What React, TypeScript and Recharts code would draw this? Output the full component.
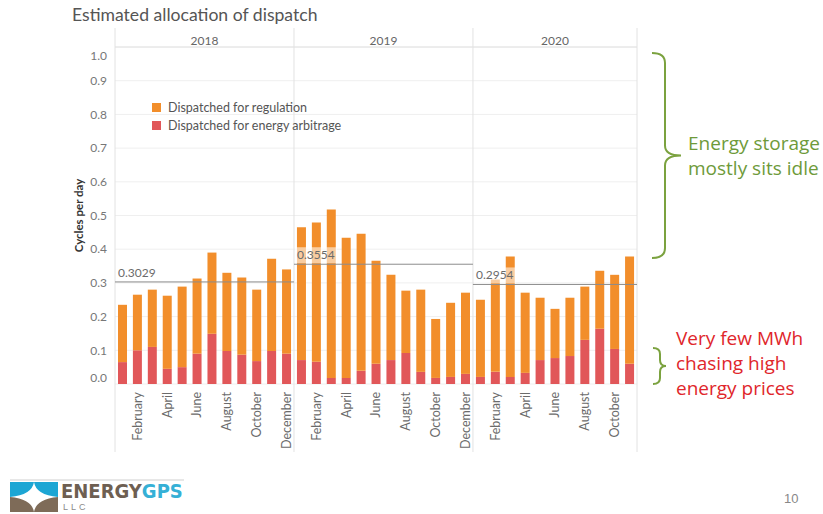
import React from "react";
import { Bar, BarChart, CartesianGrid, Legend, ReferenceLine, XAxis, YAxis } from "recharts";

const years = ["2018", "2019", "2020"];
const monthNames = [
  "January", "February", "March", "April", "May", "June",
  "July", "August", "September", "October", "November", "December",
];

// cycles per day (arbitrage = red bottom, regulation = orange top)
const arbitrage2018 = [0.065, 0.1, 0.11, 0.045, 0.05, 0.09, 0.149, 0.098, 0.087, 0.068, 0.098, 0.09];
const regulation2018 = [0.17, 0.165, 0.17, 0.217, 0.239, 0.223, 0.241, 0.232, 0.229, 0.212, 0.274, 0.25];
const arbitrage2019 = [0.071, 0.066, 0.018, 0.018, 0.039, 0.06, 0.071, 0.092, 0.036, 0.018, 0.021, 0.03];
const regulation2019 = [0.394, 0.413, 0.5, 0.416, 0.407, 0.306, 0.253, 0.185, 0.244, 0.175, 0.22, 0.241];
const arbitrage2020 = [0.021, 0.036, 0.021, 0.033, 0.071, 0.077, 0.083, 0.131, 0.164, 0.104, 0.06];
const regulation2020 = [0.229, 0.274, 0.357, 0.238, 0.185, 0.146, 0.173, 0.158, 0.172, 0.22, 0.318];

const yearAverages = [0.3029, 0.3554, 0.2954];
const yTicks = [0, 0.1, 0.2, 0.3, 0.4, 0.5, 0.6, 0.7, 0.8, 0.9, 1.0];

const ORANGE = "#F28E2B";
const RED = "#E15759";
const FONT = "Lato, 'Open Sans', sans-serif";

const arbitrageByYear = [arbitrage2018, arbitrage2019, arbitrage2020];
const regulationByYear = [regulation2018, regulation2019, regulation2020];

const chartData = years.flatMap((year, yi) =>
  regulationByYear[yi].map((reg, m) => ({
    key: `${monthNames[m]} ${year}`,
    month: m,
    regulation: reg,
    arbitrage: arbitrageByYear[yi][m],
  }))
).map((row, i) => ({ ...row, slot: i + 0.5 }));
const rowByKey = new Map(chartData.map((r) => [r.key, r]));

// pane boundaries on a 0..N slot scale (one unit per bar)
const yearStarts: number[] = [];
let acc = 0;
regulationByYear.forEach((arr) => {
  yearStarts.push(acc);
  acc += arr.length;
});
const totalBars = acc;
const yearEnds = yearStarts.map((s, i) => s + regulationByYear[i].length);
const yearCenters = yearStarts.map((s, i) => (s + yearEnds[i]) / 2);
const paneEdges = [...yearStarts, totalBars];

const legendItems = [
  { label: "Dispatched for regulation", color: ORANGE },
  { label: "Dispatched for energy arbitrage", color: RED },
];

const MonthTick = (props: any) => {
  const { x, y, payload } = props;
  const row = rowByKey.get(payload.value);
  if (!row || row.month % 2 === 0) return <g />;
  return (
    <text
      x={x}
      y={y}
      transform={`rotate(-90, ${x}, ${y})`}
      textAnchor="end"
      dy="0.35em"
      fill="#6b6b6b"
      fontSize={12.5}
      fontFamily={FONT}
    >
      {monthNames[row.month]}
    </text>
  );
};

const YearTick = (props: any) => {
  const { x, y, payload } = props;
  const label = years[yearCenters.indexOf(payload.value)] ?? "";
  return (
    <text x={x} y={y} dy={6} textAnchor="middle" fill="#666" fontSize={12} fontFamily={FONT}>
      {label}
    </text>
  );
};

// Tableau pulls the end labels inside the pane
const ValueTick = (props: any) => {
  const { x, y, payload } = props;
  const v = payload.value as number;
  const nudge = v === 0 ? -6 : v === 1 ? 9 : 0;
  return (
    <text x={x} y={y + nudge} dy="0.35em" textAnchor="end" fill="#777" fontSize={12} fontFamily={FONT}>
      {v.toFixed(1)}
    </text>
  );
};

const PaneDivider = (p: any) => {
  const top = Math.min(p.y1, p.y2);
  const bottom = Math.max(p.y1, p.y2);
  return <line x1={p.x1} x2={p.x2} y1={top - 19} y2={bottom + 68} stroke="#e2e2e2" strokeWidth={1} />;
};

const avgLabel = (text: string) => (props: any) => {
  const vb = props.viewBox || {};
  return (
    <g>
      <rect x={vb.x + 1} y={vb.y - 17} width={42} height={16} fill="#ffffff" opacity={0.55} />
      <text x={vb.x + 3} y={vb.y - 5} fill="#6b6b6b" fontSize={12} fontFamily={FONT}>
        {text}
      </text>
    </g>
  );
};

const brace = (x0: number, xv: number, xt: number, y0: number, y1: number, r: number) => {
  const ym = (y0 + y1) / 2;
  return `M${x0},${y0} Q${xv},${y0} ${xv},${y0 + r} L${xv},${ym - r} Q${xv},${ym} ${xt},${ym} Q${xv},${ym} ${xv},${ym + r} L${xv},${y1 - r} Q${xv},${y1} ${x0},${y1}`;
};

export default function App() {
  return (
    <div style={{ position: "absolute", left: 0, top: 0, width: 823, height: 514, background: "#fff", fontFamily: FONT, overflow: "hidden" }}>
      <div style={{ position: "absolute", left: 72, top: 4, fontSize: 17.6, color: "#555", whiteSpace: "nowrap" }}>
        Estimated allocation of dispatch
      </div>

      <div style={{ position: "absolute", left: 0, top: 0 }}>
        <BarChart
          width={823}
          height={460}
          data={chartData}
          margin={{ top: 27, right: 186, bottom: 10, left: 70 }}
          barCategoryGap="20%"
        >
          <CartesianGrid xAxisId="cat" vertical={false} stroke="#efefef" />
          <XAxis
            xAxisId="cat"
            dataKey="key"
            interval={0}
            height={66}
            axisLine={false}
            tickLine={false}
            tick={<MonthTick />}
          />
          <XAxis
            xAxisId="yr"
            dataKey="slot"
            orientation="top"
            type="number"
            domain={[0, totalBars]}
            ticks={yearCenters}
            interval={0}
            height={20}
            tickLine={false}
            axisLine={{ stroke: "#e2e2e2" }}
            tick={<YearTick />}
            allowDataOverflow
          />
          <YAxis
            domain={[0, 1]}
            ticks={yTicks}
            interval={0}
            width={45}
            axisLine={false}
            tickLine={false}
            tick={<ValueTick />}
            label={(props: any) => {
              const vb = props.viewBox || {};
              const cx = vb.x + 9;
              const cy = vb.y + vb.height / 2;
              return (
                <text
                  x={cx}
                  y={cy}
                  transform={`rotate(-90, ${cx}, ${cy})`}
                  textAnchor="middle"
                  dy="0.35em"
                  fontSize={11.5}
                  fontWeight={700}
                  fill="#333"
                  fontFamily={FONT}
                >
                  Cycles per day
                </text>
              );
            }}
          />
          <Legend
            layout="vertical"
            align="center"
            verticalAlign="middle"
            wrapperStyle={{ left: 152, top: 98, width: 260, height: 40 }}
            content={() => (
              <div style={{ fontFamily: FONT, fontSize: 12.5, color: "#555" }}>
                {legendItems.map((it) => (
                  <div key={it.label} style={{ display: "flex", alignItems: "center", height: 18 }}>
                    <span style={{ width: 9, height: 9, background: it.color, display: "inline-block", marginRight: 7 }} />
                    {it.label}
                  </div>
                ))}
              </div>
            )}
          />
          <Bar xAxisId="cat" dataKey="arbitrage" stackId="a" fill={RED} isAnimationActive={false} />
          <Bar xAxisId="cat" dataKey="regulation" stackId="a" fill={ORANGE} isAnimationActive={false} />
          {paneEdges.map((e) => (
            <ReferenceLine key={`edge-${e}`} xAxisId="yr" x={e} shape={PaneDivider} ifOverflow="visible" />
          ))}
          {yearAverages.map((avg, i) => (
            <ReferenceLine
              key={`avg-${i}`}
              xAxisId="yr"
              segment={[
                { x: yearStarts[i], y: avg },
                { x: yearEnds[i], y: avg },
              ]}
              stroke="#8c8c8c"
              strokeWidth={1}
              ifOverflow="visible"
              label={avgLabel(avg.toFixed(4))}
            />
          ))}
        </BarChart>
      </div>

      <svg width={823} height={514} style={{ position: "absolute", left: 0, top: 0, pointerEvents: "none" }}>
        <path d={brace(652, 665, 681, 53, 258, 10)} fill="none" stroke="#7BA23F" strokeWidth={2} />
        <path d={brace(653, 660, 666, 348, 384, 6)} fill="none" stroke="#7BA23F" strokeWidth={2} />
        <text x={688} y={150} fontSize={19} fill="#6E9A3A" fontFamily="'Open Sans', sans-serif">Energy storage</text>
        <text x={688} y={175} fontSize={19} fill="#6E9A3A" fontFamily="'Open Sans', sans-serif">mostly sits idle</text>
        <text x={676} y={345} fontSize={19} fill="#E0262B" fontFamily="'Open Sans', sans-serif">Very few MWh</text>
        <text x={676} y={370} fontSize={19} fill="#E0262B" fontFamily="'Open Sans', sans-serif">chasing high</text>
        <text x={676} y={395} fontSize={19} fill="#E0262B" fontFamily="'Open Sans', sans-serif">energy prices</text>

        <line x1={10} x2={184} y1={480} y2={480} stroke="#cfcfcf" strokeWidth={1} />
        <rect x={10} y={482} width={48} height={15} fill="#1CA6D4" />
        <rect x={10} y={497} width={48} height={15} fill="#7E6B58" />
        <path d="M34,482 Q36,495 58,497 Q36,499 34,512 Q32,499 10,497 Q32,495 34,482 Z" fill="#fff" />
        <text x={61} y={498} fontSize={20} fontWeight={700} fontFamily="'Liberation Sans Narrow', 'DejaVu Sans Condensed', sans-serif">
          <tspan fill="#6E5F52">ENERGY</tspan>
          <tspan fill="#35B0D6">GPS</tspan>
        </text>
        <text x={63} y={510} fontSize={9} letterSpacing={3} fill="#8a8a8a" fontFamily="'Liberation Sans', sans-serif">LLC</text>
        <text x={784} y={503} fontSize={13} fill="#888" fontFamily="'Liberation Sans Narrow', sans-serif">10</text>
      </svg>
    </div>
  );
}
